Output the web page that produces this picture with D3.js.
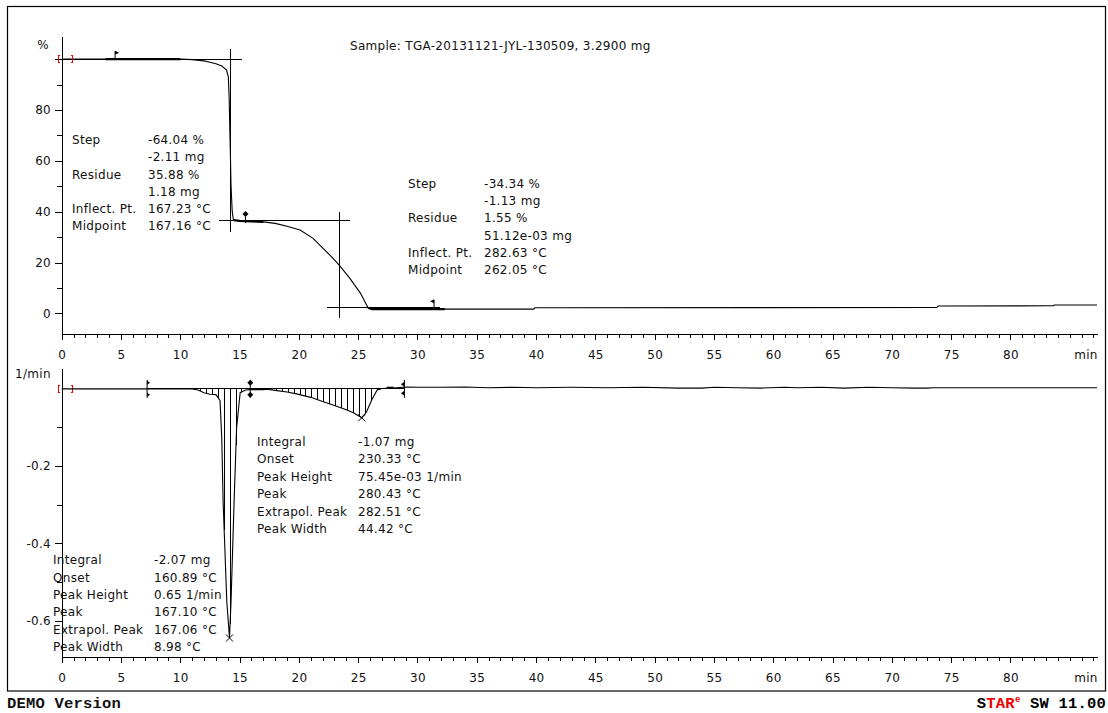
<!DOCTYPE html>
<html><head><meta charset="utf-8">
<script src="https://cdn.jsdelivr.net/npm/d3@7"></script>
<style>
body{margin:0;background:#fff}
svg text{font-family:"DejaVu Sans",sans-serif;font-size:12px;fill:#111;letter-spacing:0.3px}
</style>
</head><body>
<svg id="chart" width="1108" height="713"></svg>
<script>
// ---------- data ----------
const tgaTime = [0,10,11,12,12.5,13,13.5,13.9,14.05,14.12,14.2,14.28,14.38,14.48,15,16,17,18,19,20.1,21.2,22.04,22.7,23.4,24.3,25.2,25.83,26.2,39.8,39.9,73.8,73.9,83.6,83.7,87.3];
const tgaPct  = [100,100,99.8,99.3,98.8,98.2,97.3,95.7,93,84.7,68,50,40,36.7,36.4,36.2,36.0,35.4,34.3,32.8,29.5,25.6,22.5,19,13.8,7.9,2.2,1.7,1.7,2.2,2.3,2.9,3.0,3.3,3.3];

const dtgTime = [0,7,11,11.5,12,12.5,13,13.35,13.5,13.61,13.92,14.15,14.28,14.54,14.75,15.05,15.5,16,17,17.3,18,19,19.8,21,22,23,24,24.6,25.3,25.7,26.15,26.6,27,28,29,30,32,34,36,38,40,43,46,49,52,54,55,57,59,61,62,64,66,68,70,72,73,73.5,87.3];
const dtgVal  = [0,0,0,-0.003,-0.010,-0.014,-0.015,-0.03,-0.13,-0.29,-0.55,-0.645,-0.55,-0.29,-0.1,-0.01,-0.003,-0.002,-0.002,-0.001,-0.004,-0.008,-0.013,-0.022,-0.033,-0.043,-0.054,-0.062,-0.075,-0.06,-0.028,-0.003,0.001,0.002,0.005,0.004,0.004,0.005,0.003,0.004,0.003,0.004,0.003,0.004,0.002,0.002,0.004,0.003,0.002,0.004,0.003,0.004,0.002,0.004,0.003,0.002,0.002,0.003,0.003];

const xMajorTicks = [0,5,10,15,20,25,30,35,40,45,50,55,60,65,70,75,80];
const xMinorTicks = d3.range(0,88,1);
const topYMajor = [0,20,40,60,80];
const topYMinor = [10,30,50,70,90];
const botYMajor = [-0.6,-0.4,-0.2];
const botYMinor = [-0.5,-0.3,-0.1];

const sampleTitle = "Sample: TGA-20131121-JYL-130509, 3.2900 mg";
const step1Labels = ["Step","","Residue","","Inflect. Pt.","Midpoint"];
const step1Values = ["-64.04 %","-2.11 mg","35.88 %","1.18 mg","167.23 °C","167.16 °C"];
const step2Labels = ["Step","","Residue","","Inflect. Pt.","Midpoint"];
const step2Values = ["-34.34 %","-1.13 mg","1.55 %","51.12e-03 mg","282.63 °C","262.05 °C"];
const peak1Labels = ["Integral","Onset","Peak Height","Peak","Extrapol. Peak","Peak Width"];
const peak1Values = ["-2.07 mg","160.89 °C","0.65 1/min","167.10 °C","167.06 °C","8.98 °C"];
const peak2Labels = ["Integral","Onset","Peak Height","Peak","Extrapol. Peak","Peak Width"];
const peak2Values = ["-1.07 mg","230.33 °C","75.45e-03 1/min","280.43 °C","282.51 °C","44.42 °C"];

// evaluation helpers (in data units)
const step1Tangents = [[[-0.57,100],[15.2,100]],[[14.2,104],[14.2,32]],[[13.27,36.7],[24.3,36.7]]];
const step2Tangents = [[[23.4,40],[23.4,-2]],[[22.4,2.2],[31.9,2.2]]];
const tgaBold = [[3.7,10],[14.5,17],[25.85,32.3]];
const peakMarks = [[14.15,-0.645],[25.3,-0.075]];
const peak1Hatch = d3.range(11.2,15.3,0.5);
const peak2Hatch = d3.range(16.6,26.7,0.5);

// ---------- layout ----------
const svg = d3.select("#chart");
const x = d3.scaleLinear().domain([0,87.3]).range([61.7,1097]);
const yTop = d3.scaleLinear().domain([-8.1,109.1]).range([334,36]);
const yBot = d3.scaleLinear().domain([-0.695,0.054]).range([657.3,368]);

svg.append("rect").attr("x",7.5).attr("y",6.5).attr("width",1098).attr("height",684.5)
  .attr("fill","none").attr("stroke","#000").attr("stroke-width",1.2);

function drawXAxis(yPix){
  const g = svg.append("g").attr("transform",`translate(0,${yPix})`);
  g.append("g").call(d3.axisBottom(x).tickValues(xMinorTicks.filter(t=>t%5!==0||t===85)).tickSize(4).tickSizeOuter(0).tickFormat(""));
  g.append("g").call(d3.axisBottom(x).tickValues(xMajorTicks).tickSize(6).tickSizeOuter(0).tickPadding(10).tickFormat(d=>String(d)));
  g.selectAll("path.domain").attr("stroke","#000");
  g.selectAll("line").attr("stroke","#000");
  g.selectAll("text").style("font-family","DejaVu Sans").style("font-size","12px").attr("fill","#111");
  g.append("text").attr("x",1086).attr("y",16).attr("dy","0.71em").attr("text-anchor","middle").text("min");
  g.attr("shape-rendering","crispEdges");
}
function drawYAxis(scale, major, minor, fmt){
  const g = svg.append("g").attr("transform","translate(62,0)").attr("shape-rendering","crispEdges");
  g.append("g").call(d3.axisLeft(scale).tickValues(minor).tickSize(5).tickSizeOuter(0).tickFormat(""));
  g.append("g").call(d3.axisLeft(scale).tickValues(major).tickSize(7).tickSizeOuter(0).tickPadding(4).tickFormat(fmt));
  g.selectAll("path.domain,line").attr("stroke","#000");
  g.selectAll("text").style("font-family","DejaVu Sans").style("font-size","12px").attr("fill","#111");
}
drawXAxis(334);
drawXAxis(657.3);
drawYAxis(yTop, topYMajor, topYMinor, d=>String(d));
drawYAxis(yBot, botYMajor, botYMinor, d=>d.toFixed(1));

svg.append("text").attr("x",43).attr("y",49).attr("text-anchor","middle").text("%");
svg.append("text").attr("x",15).attr("y",377.5).text("1/min");
svg.append("text").attr("x",350).attr("y",49.5).text(sampleTitle);

// ---------- TGA ----------
const tgaData = tgaTime.map((t,i)=>[t,tgaPct[i]]);
const tgaLine = d3.line().x(d=>x(d[0])).y(d=>yTop(d[1]));
svg.append("path").datum(tgaData).attr("d",tgaLine).attr("fill","none").attr("stroke","#000").attr("stroke-width",1.1);
const interpTga = t=>{ for(let i=1;i<tgaTime.length;i++){ if(t<=tgaTime[i]){const a=tgaTime[i-1],b=tgaTime[i];return tgaPct[i-1]+(tgaPct[i]-tgaPct[i-1])*(t-a)/(b-a);} } return tgaPct[tgaPct.length-1]; };
tgaBold.forEach(([a,b])=>{
  const pts = [[a,interpTga(a)]].concat(tgaData.filter(d=>d[0]>a&&d[0]<b)).concat([[b,interpTga(b)]]);
  svg.append("path").datum(pts).attr("d",tgaLine).attr("fill","none").attr("stroke","#000").attr("stroke-width",2.2);
});
step1Tangents.concat(step2Tangents).forEach(seg=>{
  svg.append("line").attr("x1",x(seg[0][0])).attr("y1",yTop(seg[0][1])).attr("x2",x(seg[1][0])).attr("y2",yTop(seg[1][1]))
    .attr("stroke","#000").attr("stroke-width",1).attr("shape-rendering","crispEdges");
});
// markers on TGA
function flag(px,py,dir){
  const g=svg.append("g");
  g.append("line").attr("x1",px).attr("y1",py-8).attr("x2",px).attr("y2",py).attr("stroke","#000");
  g.append("path").attr("d",`M${px},${py-8.5}L${px+4*dir},${py-6.5}L${px},${py-4.5}Z`).attr("fill","#000");
}
flag(x(4.5),yTop(100),1);
flag(x(31.4),yTop(2.2),-1);
(function(){
  const px=x(15.5), py=yTop(36.3);
  svg.append("line").attr("x1",px).attr("y1",py-9).attr("x2",px).attr("y2",py+2).attr("stroke","#000");
  svg.append("path").attr("d",`M${px},${py-10}L${px+3},${py-7}L${px},${py-4}L${px-3},${py-7}Z`).attr("fill","#000");
})();

// red brackets
function brackets(py){
  const a=x(-0.3), b=x(0.95);
  svg.append("path").attr("d",`M${a+2},${py-3.5}H${a}V${py+3.5}H${a+2}M${b-2},${py-3.5}H${b}V${py+3.5}H${b-2}`)
    .attr("fill","none").attr("stroke","#e00").attr("stroke-width",1).attr("shape-rendering","crispEdges");
}
brackets(yTop(100));
brackets(yBot(0));

// ---------- DTG ----------
const dtgData = dtgTime.map((t,i)=>[t,dtgVal[i]]);
const interpDtg = t=>{ for(let i=1;i<dtgTime.length;i++){ if(t<=dtgTime[i]){const a=dtgTime[i-1],b=dtgTime[i];return dtgVal[i-1]+(dtgVal[i]-dtgVal[i-1])*(t-a)/(b-a);} } return dtgVal[dtgVal.length-1]; };
svg.append("line").attr("x1",x(7.2)).attr("x2",x(28.9)).attr("y1",yBot(0)).attr("y2",yBot(0)).attr("stroke","#000").attr("shape-rendering","crispEdges");
peak1Hatch.concat(peak2Hatch).forEach(t=>{
  svg.append("line").attr("x1",x(t)).attr("x2",x(t)).attr("y1",yBot(0)).attr("y2",yBot(interpDtg(t)))
    .attr("stroke","#000").attr("stroke-width",1).attr("shape-rendering","crispEdges");
});
const dtgLine = d3.line().x(d=>x(d[0])).y(d=>yBot(d[1]));
svg.append("path").datum(dtgData).attr("d",dtgLine).attr("fill","none").attr("stroke","#000").attr("stroke-width",1.1);
svg.append("line").attr("x1",x(27.4)).attr("x2",x(28.0)).attr("y1",yBot(0.003)).attr("y2",yBot(0.003)).attr("stroke","#000").attr("stroke-width",2);

peakMarks.forEach(([t,v])=>{
  const px=x(t), py=yBot(v);
  svg.append("path").attr("d",`M${px-3.5},${py-3.5}L${px+3.5},${py+3.5}M${px+3.5},${py-3.5}L${px-3.5},${py+3.5}`).attr("stroke","#000").attr("stroke-width",1);
});
function limit(t,kind){
  const px=x(t), py=yBot(0);
  svg.append("line").attr("x1",px).attr("x2",px).attr("y1",py-9).attr("y2",py+9).attr("stroke","#000");
  if(kind==="right"){
    svg.append("path").attr("d",`M${px},${py-8}l3,2l-3,2zM${px},${py+4}l3,2l-3,2z`).attr("fill","#000");
  } else if(kind==="left"){
    svg.append("path").attr("d",`M${px},${py-7}l-3.5,2.5l3.5,2.5zM${px},${py+2}l-3.5,2.5l3.5,2.5z`).attr("fill","#000");
  } else {
    svg.append("path").attr("d",`M${px},${py-9}l3,3l-3,3l-3,-3zM${px},${py+3}l3,3l-3,3l-3,-3z`).attr("fill","#000");
  }
}
limit(7.2,"right");
limit(15.9,"both");
limit(28.9,"left");

// ---------- annotation blocks ----------
function block(labels, values, lx, vx, y0, dy){
  labels.forEach((l,i)=>{ if(l) svg.append("text").attr("x",lx).attr("y",y0+i*dy+4.3).text(l); });
  values.forEach((v,i)=>{ svg.append("text").attr("x",vx).attr("y",y0+i*dy+4.3).text(v); });
}
block(step1Labels, step1Values, 72, 148, 140, 17.1);
block(step2Labels, step2Values, 408, 484, 183.3, 17.3);
block(peak2Labels, peak2Values, 257, 358, 441.7, 17.4);
block(peak1Labels, peak1Values, 53, 154, 560, 17.3);

// ---------- footer ----------
svg.append("text").attr("x",7).attr("y",708).style("font-family","Liberation Mono").style("font-size","15.5px").style("font-weight","bold").style("letter-spacing","0.2px").attr("fill","#000").text("DEMO Version");
const star = svg.append("text").attr("x",1106).attr("y",708).attr("text-anchor","end")
  .style("font-family","Liberation Mono").style("font-size","15.5px").style("font-weight","bold").style("letter-spacing","0.2px");
star.append("tspan").attr("fill","#000").text("S");
star.append("tspan").attr("fill","#e00").text("TAR");
star.append("tspan").attr("fill","#e00").attr("dy",-6).style("font-size","9px").text("e");
star.append("tspan").attr("fill","#000").attr("dy",6).text(" SW 11.00");
</script>
</body></html>
